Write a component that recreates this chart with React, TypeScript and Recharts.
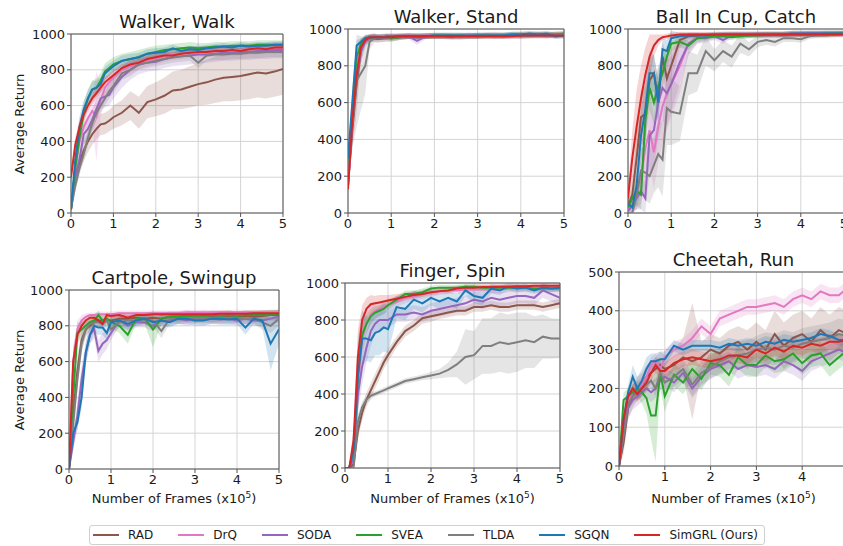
import React from "react";
import { Area, CartesianGrid, ComposedChart, Line, ReferenceArea, XAxis, YAxis } from "recharts";

// frames (x1e5): fine steps early, where the curves rise fast
const FRAMES = [0, 0.1, 0.2, 0.3, 0.4, 0.5, 0.6, 0.7, 0.8, 0.9, 1.0, 1.2, 1.4, 1.6, 1.8, 2.0, 2.2, 2.4, 2.6, 2.8, 3.0, 3.2, 3.4, 3.6, 3.8, 4.0, 4.2, 4.4, 4.6, 4.8, 5.0];
const FRAME_TICKS = [0, 1, 2, 3, 4, 5];
const RETURN_TICKS = [0, 200, 400, 600, 800, 1000];
const CHEETAH_TICKS = [0, 100, 200, 300, 400, 500];

const METHODS = ["RAD", "DrQ", "SODA", "SVEA", "TLDA", "SGQN", "SimGRL"];
const LEGEND_LABELS = ["RAD", "DrQ", "SODA", "SVEA", "TLDA", "SGQN", "SimGRL (Ours)"];
const COLORS: Record<string, string> = {
  RAD: "#8c564b",
  DrQ: "#e377c2",
  SODA: "#9467bd",
  SVEA: "#2ca02c",
  TLDA: "#7f7f7f",
  SGQN: "#1f77b4",
  SimGRL: "#d62728",
};

type Curves = Record<string, number[]>;

const WALK_MEAN: Curves = {
  RAD: [20, 200, 280, 350, 400, 440, 470, 495, 500, 515, 535, 560, 600, 560, 620, 635, 655, 685, 690, 705, 720, 730, 745, 755, 760, 765, 775, 785, 780, 790, 805],
  DrQ: [20, 250, 400, 480, 530, 570, 540, 630, 700, 730, 760, 800, 820, 840, 855, 865, 875, 885, 890, 895, 900, 900, 905, 905, 910, 910, 915, 915, 920, 920, 920],
  SODA: [20, 200, 300, 440, 470, 520, 580, 640, 650, 660, 700, 760, 800, 830, 840, 845, 860, 870, 875, 880, 885, 885, 890, 895, 895, 900, 900, 905, 905, 910, 910],
  SVEA: [20, 250, 420, 560, 640, 690, 700, 740, 790, 810, 830, 850, 860, 870, 890, 900, 910, 915, 920, 925, 920, 925, 930, 930, 935, 935, 935, 940, 940, 940, 940],
  TLDA: [20, 150, 250, 330, 420, 500, 560, 600, 640, 680, 710, 780, 800, 830, 840, 850, 860, 870, 875, 880, 840, 880, 885, 885, 890, 890, 895, 895, 900, 900, 900],
  SGQN: [20, 300, 480, 580, 640, 690, 700, 720, 780, 800, 820, 850, 860, 870, 890, 895, 900, 920, 905, 915, 910, 920, 925, 930, 925, 935, 930, 935, 935, 940, 940],
  SimGRL: [200, 380, 480, 550, 600, 640, 670, 700, 730, 750, 770, 810, 830, 840, 860, 870, 880, 880, 890, 895, 900, 900, 905, 905, 910, 905, 915, 920, 915, 925, 925],
};
const WALK_SD: Curves = {
  RAD: [10, 40, 50, 60, 60, 60, 60, 60, 60, 60, 65, 70, 80, 90, 90, 95, 100, 105, 110, 115, 120, 125, 130, 130, 135, 135, 140, 140, 140, 140, 145],
  DrQ: [10, 60, 70, 60, 60, 80, 250, 90, 60, 50, 45, 40, 40, 35, 35, 35, 30, 30, 30, 30, 30, 30, 30, 30, 30, 30, 30, 30, 30, 30, 30],
  SODA: [10, 40, 60, 60, 60, 60, 60, 60, 60, 60, 60, 60, 55, 55, 50, 50, 50, 50, 50, 50, 50, 45, 45, 45, 45, 45, 45, 45, 45, 45, 45],
  SVEA: [10, 50, 60, 60, 50, 50, 50, 45, 45, 45, 40, 40, 40, 40, 35, 35, 30, 30, 30, 30, 30, 25, 25, 25, 25, 25, 25, 25, 25, 25, 25],
  TLDA: [10, 30, 40, 40, 40, 40, 40, 40, 40, 40, 40, 35, 35, 30, 30, 30, 30, 30, 30, 30, 30, 30, 30, 30, 30, 30, 30, 30, 30, 30, 30],
  SGQN: [10, 60, 60, 50, 45, 45, 40, 40, 35, 35, 30, 30, 30, 25, 25, 25, 25, 20, 20, 20, 20, 20, 20, 20, 20, 20, 20, 20, 20, 20, 20],
  SimGRL: [40, 40, 40, 35, 30, 30, 30, 25, 25, 25, 25, 20, 20, 20, 20, 20, 20, 20, 20, 20, 20, 20, 20, 20, 20, 20, 20, 20, 20, 20, 20],
};

const STAND_MEAN: Curves = {
  RAD: [150, 450, 700, 880, 940, 950, 950, 945, 950, 955, 950, 955, 960, 955, 960, 960, 960, 955, 960, 965, 960, 965, 960, 965, 965, 960, 965, 970, 965, 970, 970],
  DrQ: [150, 500, 760, 900, 940, 950, 955, 955, 960, 960, 960, 960, 965, 960, 965, 965, 965, 965, 965, 965, 965, 965, 970, 965, 970, 970, 970, 970, 970, 970, 970],
  SODA: [150, 480, 740, 880, 930, 950, 955, 955, 955, 955, 955, 960, 960, 935, 960, 960, 960, 960, 960, 960, 965, 965, 965, 960, 965, 965, 965, 965, 965, 965, 965],
  SVEA: [250, 550, 850, 920, 945, 950, 955, 955, 955, 955, 950, 955, 960, 960, 960, 965, 965, 965, 965, 960, 965, 965, 965, 965, 970, 970, 970, 970, 970, 970, 975],
  TLDA: [200, 500, 720, 760, 800, 930, 950, 950, 950, 950, 955, 955, 960, 960, 960, 960, 960, 960, 955, 960, 960, 965, 965, 965, 965, 965, 965, 965, 965, 970, 970],
  SGQN: [300, 600, 910, 930, 950, 955, 955, 955, 955, 960, 960, 960, 960, 960, 960, 965, 965, 965, 965, 965, 965, 965, 965, 965, 970, 970, 975, 970, 975, 960, 965],
  SimGRL: [130, 500, 750, 900, 940, 955, 955, 955, 955, 955, 955, 960, 960, 960, 960, 960, 960, 960, 960, 960, 960, 960, 960, 960, 960, 965, 965, 965, 965, 965, 965],
};
const STAND_SD: Curves = {
  RAD: [30, 100, 150, 60, 30, 20, 20, 20, 20, 20, 20, 15, 15, 15, 15, 15, 15, 15, 15, 15, 15, 15, 15, 15, 15, 15, 15, 15, 15, 15, 15],
  DrQ: [30, 80, 80, 50, 25, 20, 20, 15, 15, 15, 15, 15, 15, 15, 15, 15, 15, 15, 15, 15, 15, 15, 15, 15, 15, 15, 15, 15, 15, 15, 15],
  SODA: [30, 80, 100, 60, 30, 20, 20, 15, 15, 15, 15, 15, 15, 20, 15, 15, 15, 15, 15, 15, 15, 15, 15, 15, 15, 15, 15, 15, 15, 15, 15],
  SVEA: [30, 80, 60, 30, 20, 15, 15, 15, 15, 15, 15, 15, 15, 15, 15, 15, 15, 15, 15, 15, 15, 15, 15, 15, 15, 15, 15, 15, 15, 15, 15],
  TLDA: [30, 150, 250, 200, 150, 40, 25, 20, 20, 20, 20, 15, 15, 15, 15, 15, 15, 15, 15, 15, 15, 15, 15, 15, 15, 15, 15, 15, 15, 15, 15],
  SGQN: [30, 80, 30, 20, 15, 15, 15, 15, 15, 15, 15, 15, 15, 15, 15, 15, 15, 15, 15, 15, 15, 15, 15, 15, 15, 15, 15, 15, 15, 15, 15],
  SimGRL: [30, 60, 60, 30, 20, 15, 15, 15, 15, 15, 15, 15, 15, 15, 15, 15, 15, 15, 15, 15, 15, 15, 15, 15, 15, 15, 15, 15, 15, 15, 15],
};

const CUP_MEAN: Curves = {
  RAD: [40, 100, 300, 520, 540, 720, 760, 610, 850, 730, 800, 940, 960, 965, 965, 965, 970, 970, 970, 970, 970, 970, 970, 970, 975, 975, 975, 975, 975, 975, 975],
  DrQ: [20, 50, 100, 200, 350, 450, 330, 470, 580, 650, 700, 800, 920, 950, 960, 965, 965, 970, 970, 970, 970, 970, 970, 970, 975, 975, 975, 975, 975, 975, 975],
  SODA: [10, 40, 80, 120, 80, 420, 450, 600, 680, 650, 700, 820, 920, 950, 950, 960, 940, 965, 965, 965, 970, 970, 970, 970, 970, 970, 975, 975, 975, 975, 975],
  SVEA: [30, 80, 120, 100, 500, 680, 600, 690, 760, 850, 920, 930, 910, 950, 955, 960, 960, 955, 960, 965, 965, 970, 970, 970, 970, 970, 970, 970, 975, 975, 975],
  TLDA: [0, 0, 100, 230, 220, 200, 260, 320, 290, 570, 550, 540, 760, 760, 880, 830, 880, 850, 920, 890, 930, 940, 930, 950, 950, 945, 960, 965, 965, 970, 975],
  SGQN: [50, 30, 150, 420, 560, 760, 760, 600, 890, 880, 950, 960, 965, 965, 965, 970, 970, 970, 970, 970, 970, 970, 970, 970, 975, 975, 975, 975, 975, 975, 975],
  SimGRL: [80, 300, 470, 620, 750, 850, 910, 940, 955, 960, 965, 970, 970, 970, 970, 970, 970, 970, 970, 970, 970, 970, 970, 970, 970, 970, 970, 970, 970, 970, 970],
};
const CUP_SD: Curves = {
  RAD: [20, 60, 150, 150, 150, 120, 100, 120, 80, 120, 100, 40, 20, 15, 15, 15, 15, 15, 15, 15, 15, 15, 15, 15, 15, 15, 15, 15, 15, 15, 15],
  DrQ: [20, 40, 80, 150, 200, 200, 200, 200, 200, 200, 180, 150, 60, 30, 20, 15, 15, 15, 15, 15, 15, 15, 15, 15, 15, 15, 15, 15, 15, 15, 15],
  SODA: [10, 30, 60, 100, 80, 200, 200, 200, 180, 180, 150, 120, 60, 30, 25, 20, 20, 15, 15, 15, 15, 15, 15, 15, 15, 15, 15, 15, 15, 15, 15],
  SVEA: [20, 50, 80, 80, 150, 120, 120, 100, 80, 60, 40, 30, 25, 20, 20, 15, 15, 15, 15, 15, 15, 15, 15, 15, 15, 15, 15, 15, 15, 15, 15],
  TLDA: [10, 10, 80, 120, 150, 150, 150, 180, 200, 200, 180, 150, 120, 100, 80, 60, 60, 60, 50, 40, 30, 25, 25, 20, 20, 20, 15, 15, 15, 15, 15],
  SGQN: [30, 30, 100, 150, 150, 120, 100, 120, 60, 60, 40, 20, 15, 15, 15, 15, 15, 15, 15, 15, 15, 15, 15, 15, 15, 15, 15, 15, 15, 15, 15],
  SimGRL: [50, 150, 200, 180, 150, 120, 60, 30, 15, 15, 15, 15, 15, 15, 15, 15, 15, 15, 15, 15, 15, 15, 15, 15, 15, 15, 15, 15, 15, 15, 15],
};

const CARTPOLE_MEAN: Curves = {
  RAD: [0, 300, 550, 720, 780, 800, 820, 830, 830, 835, 830, 840, 840, 845, 840, 845, 840, 850, 850, 855, 850, 855, 850, 855, 855, 850, 855, 850, 855, 860, 860],
  DrQ: [0, 600, 780, 830, 850, 860, 860, 865, 865, 865, 865, 870, 870, 870, 870, 870, 870, 870, 870, 875, 875, 875, 875, 875, 875, 875, 875, 875, 875, 875, 875],
  SODA: [0, 150, 300, 500, 650, 750, 780, 660, 700, 720, 760, 830, 800, 820, 820, 800, 830, 830, 840, 830, 840, 835, 840, 835, 840, 830, 840, 830, 830, 840, 850],
  SVEA: [0, 400, 760, 780, 800, 820, 830, 860, 830, 840, 820, 800, 750, 840, 840, 780, 840, 850, 850, 855, 855, 850, 860, 855, 860, 855, 860, 860, 860, 860, 865],
  TLDA: [0, 250, 500, 700, 780, 810, 820, 820, 810, 830, 780, 820, 830, 830, 835, 830, 770, 840, 840, 845, 845, 845, 845, 845, 845, 845, 840, 840, 820, 800, 840],
  SGQN: [0, 200, 260, 400, 650, 750, 800, 790, 790, 760, 820, 830, 810, 830, 840, 820, 830, 820, 840, 840, 830, 830, 840, 840, 835, 840, 790, 840, 830, 700, 780],
  SimGRL: [0, 600, 750, 800, 830, 845, 845, 830, 810, 860, 855, 860, 845, 860, 860, 865, 865, 865, 865, 865, 865, 865, 865, 868, 868, 868, 868, 870, 870, 870, 870],
};
const CARTPOLE_SD: Curves = {
  RAD: [10, 80, 80, 60, 40, 30, 30, 30, 30, 30, 30, 30, 30, 30, 30, 30, 30, 30, 30, 30, 30, 30, 30, 30, 30, 30, 30, 30, 30, 30, 30],
  DrQ: [10, 80, 50, 30, 20, 15, 15, 15, 15, 15, 15, 15, 15, 15, 15, 15, 15, 15, 15, 15, 15, 15, 15, 15, 15, 15, 15, 15, 15, 15, 15],
  SODA: [10, 50, 80, 80, 60, 50, 50, 60, 60, 50, 40, 30, 30, 30, 30, 30, 30, 30, 30, 30, 30, 30, 30, 30, 30, 30, 30, 30, 30, 30, 30],
  SVEA: [10, 100, 60, 40, 30, 30, 30, 25, 25, 30, 30, 40, 50, 30, 30, 100, 30, 25, 25, 25, 25, 25, 25, 25, 25, 25, 25, 25, 25, 25, 25],
  TLDA: [10, 60, 60, 50, 40, 30, 30, 30, 30, 30, 40, 30, 30, 30, 30, 30, 40, 30, 30, 30, 30, 30, 30, 30, 30, 30, 30, 30, 40, 40, 40],
  SGQN: [10, 40, 40, 60, 60, 50, 40, 40, 40, 40, 30, 30, 30, 30, 30, 30, 30, 30, 30, 30, 30, 30, 30, 30, 30, 30, 40, 30, 40, 150, 80],
  SimGRL: [10, 80, 50, 30, 20, 15, 15, 15, 15, 15, 15, 15, 15, 15, 15, 15, 15, 15, 15, 15, 15, 15, 15, 15, 15, 15, 15, 15, 15, 15, 15],
};

const FINGER_MEAN: Curves = {
  RAD: [0, 0, 20, 200, 300, 370, 420, 470, 520, 570, 610, 680, 740, 770, 810, 820, 830, 840, 850, 850, 870, 870, 880, 870, 870, 880, 880, 880, 870, 880, 890],
  DrQ: [0, 0, 100, 450, 700, 780, 830, 850, 860, 870, 880, 900, 920, 930, 940, 950, 955, 960, 960, 965, 965, 965, 965, 965, 970, 970, 970, 970, 970, 970, 970],
  SODA: [0, 0, 50, 400, 550, 650, 740, 780, 800, 800, 800, 830, 830, 840, 830, 850, 860, 870, 880, 890, 910, 900, 920, 910, 920, 930, 930, 920, 960, 940, 920],
  SVEA: [0, 0, 100, 500, 720, 780, 820, 840, 850, 860, 880, 910, 940, 940, 950, 970, 975, 975, 975, 980, 980, 975, 975, 975, 975, 975, 975, 970, 970, 970, 970],
  TLDA: [0, 0, 0, 250, 330, 370, 390, 400, 410, 420, 430, 450, 470, 480, 490, 500, 510, 530, 560, 600, 610, 660, 660, 680, 670, 680, 690, 680, 710, 700, 700],
  SGQN: [0, 0, 100, 500, 700, 700, 690, 730, 740, 760, 750, 870, 860, 910, 890, 920, 900, 920, 900, 960, 930, 920, 970, 960, 980, 970, 975, 960, 975, 970, 975],
  SimGRL: [0, 0, 150, 600, 800, 860, 885, 890, 895, 900, 905, 915, 925, 935, 940, 950, 955, 960, 970, 975, 975, 978, 978, 980, 980, 982, 982, 985, 985, 985, 985],
};
const FINGER_SD: Curves = {
  RAD: [0, 0, 20, 40, 40, 40, 40, 40, 40, 35, 35, 30, 30, 30, 30, 30, 25, 25, 25, 25, 25, 25, 25, 25, 25, 25, 25, 25, 25, 25, 25],
  DrQ: [0, 0, 60, 120, 80, 60, 50, 40, 40, 35, 35, 30, 30, 25, 25, 25, 20, 20, 20, 20, 20, 20, 20, 20, 20, 20, 20, 20, 20, 20, 20],
  SODA: [0, 0, 40, 100, 100, 80, 80, 60, 50, 50, 45, 40, 40, 40, 40, 40, 40, 40, 40, 40, 40, 40, 40, 40, 40, 40, 40, 40, 40, 40, 40],
  SVEA: [0, 0, 60, 100, 80, 50, 40, 35, 30, 30, 25, 20, 20, 20, 20, 15, 15, 15, 15, 15, 15, 15, 15, 15, 15, 15, 15, 15, 15, 15, 15],
  TLDA: [0, 0, 10, 40, 30, 20, 20, 15, 15, 15, 15, 15, 15, 15, 15, 20, 25, 40, 70, 150, 130, 150, 150, 160, 160, 160, 150, 140, 120, 110, 105],
  SGQN: [0, 0, 100, 200, 150, 120, 120, 120, 130, 130, 130, 60, 60, 50, 50, 40, 40, 40, 40, 30, 40, 40, 25, 25, 20, 20, 20, 20, 20, 20, 20],
  SimGRL: [0, 0, 80, 150, 80, 60, 50, 40, 40, 35, 30, 25, 20, 20, 15, 15, 15, 15, 15, 15, 15, 15, 15, 15, 15, 15, 15, 15, 15, 15, 15],
};

const CHEETAH_MEAN: Curves = {
  RAD: [0, 60, 150, 180, 200, 210, 230, 240, 250, 260, 250, 260, 280, 270, 280, 300, 290, 310, 320, 300, 320, 300, 340, 310, 330, 340, 320, 350, 330, 350, 340],
  DrQ: [0, 100, 170, 190, 200, 210, 230, 260, 270, 250, 280, 300, 310, 330, 360, 340, 380, 390, 400, 410, 410, 415, 420, 410, 430, 440, 430, 450, 440, 440, 460],
  SODA: [0, 80, 150, 170, 180, 190, 200, 190, 200, 220, 230, 215, 240, 200, 230, 250, 260, 270, 250, 260, 255, 260, 250, 270, 260, 245, 270, 280, 290, 300, 290],
  SVEA: [0, 170, 180, 190, 200, 190, 175, 130, 130, 240, 180, 235, 215, 250, 225, 265, 260, 235, 280, 260, 260, 285, 270, 275, 290, 265, 285, 290, 260, 280, 300],
  TLDA: [0, 80, 160, 180, 190, 200, 210, 220, 200, 240, 215, 230, 250, 210, 240, 255, 270, 280, 285, 290, 300, 305, 300, 310, 305, 315, 320, 325, 330, 340, 335],
  SGQN: [0, 120, 190, 230, 200, 220, 250, 270, 270, 275, 275, 310, 300, 310, 310, 310, 305, 315, 310, 315, 310, 320, 315, 325, 320, 325, 330, 340, 335, 325, 325],
  SimGRL: [0, 120, 180, 200, 185, 200, 215, 240, 260, 245, 245, 265, 275, 280, 275, 270, 275, 285, 285, 280, 300, 290, 305, 295, 310, 305, 315, 310, 320, 320, 325],
};
const CHEETAH_SD: Curves = {
  RAD: [0, 30, 30, 30, 30, 30, 30, 30, 30, 35, 35, 40, 50, 150, 40, 40, 40, 40, 40, 50, 50, 50, 60, 60, 60, 60, 60, 60, 60, 60, 60],
  DrQ: [0, 20, 20, 20, 20, 20, 20, 20, 20, 20, 20, 20, 20, 20, 20, 20, 20, 20, 20, 20, 20, 20, 20, 20, 20, 20, 20, 20, 20, 20, 20],
  SODA: [0, 25, 25, 25, 25, 25, 25, 25, 25, 25, 25, 25, 25, 25, 25, 25, 25, 25, 25, 25, 25, 25, 25, 25, 25, 25, 25, 25, 25, 25, 25],
  SVEA: [0, 20, 20, 20, 20, 30, 40, 60, 120, 40, 40, 30, 30, 30, 30, 30, 30, 30, 30, 30, 30, 30, 30, 30, 30, 30, 30, 30, 30, 30, 30],
  TLDA: [0, 20, 20, 20, 20, 20, 20, 20, 20, 20, 20, 25, 25, 30, 30, 30, 30, 30, 35, 35, 35, 40, 40, 40, 40, 40, 40, 40, 40, 40, 40],
  SGQN: [0, 20, 20, 30, 30, 30, 30, 20, 20, 20, 20, 15, 15, 15, 15, 15, 15, 15, 15, 15, 15, 15, 15, 15, 15, 15, 15, 15, 15, 15, 15],
  SimGRL: [0, 20, 20, 20, 20, 20, 20, 20, 20, 20, 20, 20, 20, 20, 20, 20, 20, 20, 20, 20, 20, 20, 20, 20, 20, 20, 20, 20, 20, 20, 20],
};

const FONT = "'DejaVu Sans', Verdana, sans-serif";
const SPINE = "#555";
const TEXT = "#1a1a1a";

type PanelProps = {
  title: string;
  mean: Curves;
  sd: Curves;
  yTicks: number[];
  left: number;
  top: number;
  w: number;
  h: number;
  yLabel?: boolean;
  xLabel?: boolean;
};

const PAD_L = 50;
const PAD_T = 10;
const PAD_R = 10;
const AXIS_H = 30;

function Panel({ title, mean, sd, yTicks, left, top, w, h, yLabel, xLabel }: PanelProps) {
  const yMax = yTicks[yTicks.length - 1];
  const rows = FRAMES.map((x, i) => {
    const row: Record<string, any> = { x };
    METHODS.forEach((m) => {
      row[m] = mean[m][i];
      row[m + "_band"] = [mean[m][i] - sd[m][i], mean[m][i] + sd[m][i]];
    });
    return row;
  });
  const tickStyle = { fontSize: 13, fill: TEXT, fontFamily: FONT };

  return (
    <>
      <div style={{ position: "absolute", left: left - PAD_L, top: top - PAD_T }}>
        <ComposedChart
          width={w + PAD_L + PAD_R}
          height={h + PAD_T + AXIS_H}
          data={rows}
          margin={{ top: PAD_T, right: PAD_R, bottom: 0, left: 0 }}
        >
          <CartesianGrid stroke="#d4d4d4" strokeWidth={1} />
          <XAxis
            type="number"
            dataKey="x"
            domain={[0, 5]}
            ticks={FRAME_TICKS}
            interval={0}
            allowDataOverflow
            height={AXIS_H}
            axisLine={false}
            tickLine={{ stroke: SPINE }}
            tickSize={4}
            tickMargin={2}
            tick={tickStyle}
          />
          <YAxis
            type="number"
            domain={[0, yMax]}
            ticks={yTicks}
            interval={0}
            allowDataOverflow
            width={PAD_L}
            axisLine={false}
            tickLine={{ stroke: SPINE }}
            tickSize={4}
            tickMargin={2}
            tick={tickStyle}
          />
          {METHODS.map((m) => [
            <Area
              key={m + "-band"}
              dataKey={m + "_band"}
              stroke="none"
              fill={COLORS[m]}
              fillOpacity={0.2}
              isAnimationActive={false}
              activeDot={false}
            />,
            <Line
              key={m + "-line"}
              dataKey={m}
              stroke={COLORS[m]}
              strokeWidth={2}
              dot={false}
              activeDot={false}
              isAnimationActive={false}
            />,
          ])}
          <ReferenceArea x1={0} x2={5} y1={0} y2={yMax} fill="none" stroke={SPINE} strokeWidth={1} />
        </ComposedChart>
      </div>
      <div
        style={{
          position: "absolute",
          left,
          width: w,
          top: top - 21,
          textAlign: "center",
          fontSize: 18,
          lineHeight: "18px",
          color: TEXT,
          whiteSpace: "nowrap",
        }}
      >
        {title}
      </div>
      {yLabel && (
        <div
          style={{
            position: "absolute",
            left: 20,
            top: top + h / 2,
            transform: "translate(-50%, -50%) rotate(-90deg)",
            fontSize: 13,
            lineHeight: "14px",
            color: TEXT,
            whiteSpace: "nowrap",
          }}
        >
          Average Return
        </div>
      )}
      {xLabel && (
        <div
          style={{
            position: "absolute",
            left,
            width: w,
            top: 491,
            textAlign: "center",
            fontSize: 13,
            lineHeight: "16px",
            color: TEXT,
            whiteSpace: "nowrap",
          }}
        >
          Number of Frames (x10
          <span style={{ fontSize: 9, position: "relative", top: -5 }}>5</span>)
        </div>
      )}
    </>
  );
}

function Legend() {
  return (
    <div
      style={{
        position: "absolute",
        left: 89,
        top: 525,
        width: 676,
        height: 20,
        boxSizing: "border-box",
        border: "1px solid #d0d0d0",
        borderRadius: 3,
        display: "flex",
        alignItems: "center",
        paddingLeft: 3,
        fontSize: 12,
        color: TEXT,
        whiteSpace: "nowrap",
      }}
    >
      {METHODS.map((m, i) => (
        <div key={m} style={{ display: "flex", alignItems: "center", marginRight: 25, flexShrink: 0 }}>
          <span style={{ display: "inline-block", width: 26, height: 2, background: COLORS[m], marginRight: 9 }} />
          <span>{LEGEND_LABELS[i]}</span>
        </div>
      ))}
    </div>
  );
}

export default function App() {
  return (
    <div
      style={{
        position: "absolute",
        left: 0,
        top: 0,
        width: 843,
        height: 546,
        overflow: "hidden",
        background: "#fff",
        fontFamily: FONT,
      }}
    >
      <Panel title="Walker, Walk" mean={WALK_MEAN} sd={WALK_SD} yTicks={RETURN_TICKS} left={71} top={34} w={212} h={179} yLabel />
      <Panel title="Walker, Stand" mean={STAND_MEAN} sd={STAND_SD} yTicks={RETURN_TICKS} left={348} top={29} w={216} h={184} />
      <Panel title="Ball In Cup, Catch" mean={CUP_MEAN} sd={CUP_SD} yTicks={RETURN_TICKS} left={628} top={29} w={216} h={184} />
      <Panel title="Cartpole, Swingup" mean={CARTPOLE_MEAN} sd={CARTPOLE_SD} yTicks={RETURN_TICKS} left={69} top={290} w={210} h={179} yLabel xLabel />
      <Panel title="Finger, Spin" mean={FINGER_MEAN} sd={FINGER_SD} yTicks={RETURN_TICKS} left={345} top={283} w={215} h={185} xLabel />
      <Panel title="Cheetah, Run" mean={CHEETAH_MEAN} sd={CHEETAH_SD} yTicks={CHEETAH_TICKS} left={619} top={272} w={229} h={194} xLabel />
      <Legend />
    </div>
  );
}
